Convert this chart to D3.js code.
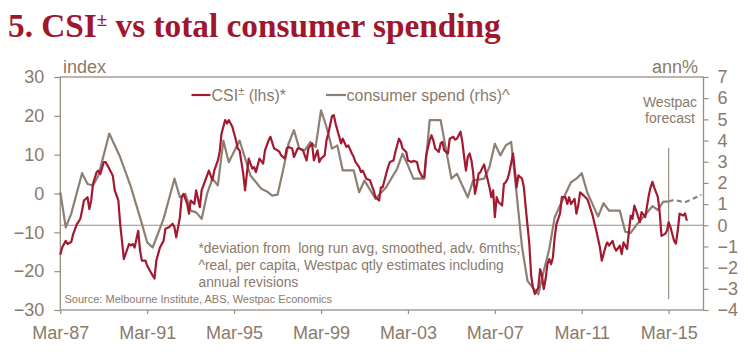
<!DOCTYPE html>
<html><head><meta charset="utf-8">
<script src="https://cdn.jsdelivr.net/npm/d3@7"></script>
<style>
body{margin:0;background:#fff}
svg{display:block}
</style>
</head><body>
<svg id="chart" width="748" height="358" font-family="'Liberation Sans',Arial,Helvetica,sans-serif"></svg>
<script>
// ---------------- DATA ----------------
const titleText = ["5. CSI", "±", " vs total consumer spending"];
const leftTicks = [-30, -20, -10, 0, 10, 20, 30];
const rightTicks = [-4, -3, -2, -1, 0, 1, 2, 3, 4, 5, 6, 7];
const xTickDates = ["1987-03","1991-03","1995-03","1999-03","2003-03","2007-03","2011-03","2015-03"];

// CSI (lhs, index, deviation from long run avg, advanced 6 months)
const csiDates = [
"1987-03","1987-04","1987-06","1987-07","1987-09","1987-10","1987-12",
"1988-02","1988-03","1988-04","1988-06","1988-07","1988-08","1988-09","1988-11","1988-12",
"1989-01","1989-03","1989-04","1989-06","1989-07","1989-08","1989-09","1989-11","1989-12",
"1990-01","1990-02","1990-03","1990-05","1990-06","1990-07","1990-08","1990-10","1990-11","1990-12",
"1991-02","1991-03","1991-05","1991-07","1991-08","1991-10","1991-12",
"1992-01","1992-03","1992-05","1992-06","1992-07","1992-09","1992-10","1992-11",
"1993-01","1993-02","1993-03","1993-05","1993-06","1993-08","1993-09","1993-11",
"1994-01","1994-03","1994-04","1994-06","1994-07","1994-08","1994-10","1994-11","1994-12",
"1995-02","1995-04","1995-05","1995-06","1995-08","1995-09","1995-10","1995-11",
"1996-01","1996-02","1996-03","1996-05","1996-07","1996-08","1996-10","1996-11",
"1997-01","1997-03","1997-04","1997-05","1997-07","1997-08","1997-09","1997-11","1997-12",
"1998-02","1998-03","1998-05","1998-07","1998-08","1998-10","1998-11",
"1999-01","1999-02","1999-03","1999-05","1999-06","1999-07","1999-09","1999-10","1999-11",
"2000-01","2000-02","2000-03","2000-05","2000-06","2000-08","2000-09","2000-10","2000-12",
"2001-01","2001-02","2001-04","2001-06","2001-07","2001-08","2001-09","2001-11","2001-12",
"2002-01","2002-03","2002-04","2002-05","2002-07","2002-08","2002-10","2002-11","2002-12",
"2003-02","2003-03","2003-05","2003-06","2003-08","2003-09","2003-11","2003-12",
"2004-01","2004-03","2004-04","2004-05","2004-06","2004-08","2004-09","2004-10","2004-11",
"2005-01","2005-02","2005-04","2005-05","2005-06","2005-08","2005-09","2005-10","2005-11","2005-12",
"2006-01","2006-02","2006-03","2006-04","2006-05","2006-06","2006-07","2006-09","2006-10","2006-12",
"2007-01","2007-02","2007-03","2007-04","2007-05","2007-07","2007-08","2007-09","2007-10","2007-11",
"2008-01","2008-02","2008-03","2008-04","2008-06","2008-07","2008-08","2008-10","2008-11","2008-12",
"2009-01","2009-03","2009-04","2009-05","2009-06","2009-07","2009-08","2009-09","2009-10","2009-11","2009-12",
"2010-01","2010-03","2010-04","2010-06","2010-07","2010-08","2010-09","2010-11","2010-12",
"2011-01","2011-02","2011-04","2011-06","2011-07","2011-09","2011-11",
"2012-01","2012-02","2012-04","2012-05","2012-06","2012-08","2012-09","2012-10","2012-12",
"2013-01","2013-02","2013-04","2013-05","2013-06","2013-07","2013-08","2013-09","2013-11","2013-12",
"2014-02","2014-04","2014-05","2014-06","2014-07","2014-09","2014-10","2014-11",
"2015-01","2015-02","2015-03","2015-04","2015-06","2015-07","2015-08","2015-09","2015-11","2015-12",
"2016-01"
];
const csiValues = [
-15.8,-13.9,-12.2,-13.0,-12.5,-10.6,-8.0,
-6.5,-4.4,-1.8,-0.95,-4.0,-1.8,2.5,5.5,5.9,
5.0,8.1,8.1,6.4,5.5,4.5,0.8,-1.8,-7.8,
-12.2,-16.9,-15.6,-13.0,-13.4,-13.0,-13.9,-9.6,-14.7,-17.3,
-17.3,-18.6,-20.3,-21.9,-17.3,-13.9,-12.2,
-9.1,-8.7,-7.8,-8.7,-11.3,-6.1,-0.95,-0.1,
-2.7,-5.2,-1.8,-2.7,0.8,-3.5,0.8,3.4,
5.9,3.4,5.9,8.5,10.7,15.4,18.9,18.0,18.9,
17.1,13.7,11.6,11.1,5.1,0.8,5.1,9.0,
6.4,6.8,5.5,9.0,7.7,11.1,13.7,14.6,
11.6,11.1,10.7,9.8,9.0,11.6,12.0,11.6,9.4,
11.6,11.6,11.1,8.5,11.6,12.9,8.5,
11.1,8.1,9.0,9.8,13.7,15.4,19.9,20.2,18.0,
14.6,12.9,14.1,12.0,12.4,10.3,9.4,8.1,6.8,
5.5,5.9,3.8,3.4,2.1,0.8,-0.95,-1.8,1.6,
1.6,5.1,6.8,8.1,8.5,10.7,14.1,13.3,11.6,
10.7,8.5,8.1,8.4,8.1,5.9,4.2,4.2,
9.8,13.7,15.0,13.7,11.6,10.7,12.9,13.3,11.1,
10.3,14.1,14.6,13.9,14.1,15.9,13.3,9.4,5.9,9.4,
10.3,8.5,5.5,-0.1,2.1,5.1,5.5,7.5,5.5,1.6,
-0.95,0.8,-6.1,-0.95,-2.2,-3.1,2.5,2.9,3.8,5.5,
10.3,5.9,1.6,4.7,3.8,1.6,-3.5,-13.0,-21.2,-24.2,
-25.9,-24.2,-19.5,-21.2,-24.6,-22.1,-18.2,-16.9,-18.2,-16.5,-11.3,
-7.8,-5.2,-0.95,-0.95,-2.7,-0.95,-2.7,-1.4,-5.2,
-3.1,0.3,-0.5,-1.4,-2.7,-5.7,-9.6,
-13.9,-17.3,-13.9,-12.6,-13.4,-12.2,-13.9,-14.7,-13.4,
-15.6,-12.6,-14.3,-10.0,-5.7,-6.5,-3.1,-4.4,-7.4,-4.8,
-6.1,-0.5,1.6,3.0,1.6,-0.95,-4.8,-10.9,
-10.4,-9.6,-7.4,-8.7,-12.2,-12.9,-9.6,-5.2,-5.7,-5.1,
-7.0
];

// Consumer spending (rhs, ann%), quarterly
const spendDates = [
"1987-03","1987-06","1987-09","1988-03","1988-06","1988-09","1988-12",
"1989-06","1989-12","1990-06","1990-12","1991-03","1991-06","1991-12",
"1992-06","1992-09","1992-12","1993-03","1993-06","1993-09","1993-12",
"1994-03","1994-06","1994-09","1994-12","1995-06","1995-12","1996-06",
"1996-09","1996-12","1997-03","1997-06","1997-09","1997-12","1998-03",
"1998-06","1998-09","1998-12","1999-03","1999-06","1999-09","1999-12",
"2000-03","2000-09","2000-12","2001-03","2001-09","2002-03","2002-09",
"2002-12","2003-03","2003-06","2003-12","2004-03","2004-09","2005-03",
"2005-06","2005-12","2006-03","2006-09","2006-12","2007-03","2007-06",
"2007-09","2007-12","2008-03","2008-06","2008-09","2009-03","2009-06",
"2009-09","2009-12","2010-03","2010-09","2010-12","2011-03","2011-06",
"2011-12","2012-03","2012-06","2012-12","2013-03","2013-06","2013-09",
"2013-12","2014-06","2014-09","2014-12","2015-03"
];
const spendValues = [
1.56,-0.1,0.55,2.46,1.95,1.88,2.35,
4.33,3.22,1.8,0.08,-0.81,-1.05,0.3,
2.2,1.32,1.48,0.69,0.61,0.3,1.48,
2.2,1.88,4.0,2.98,4.0,2.35,1.72,
1.6,1.4,1.45,2.6,3.85,4.49,3.62,
3.54,3.93,3.7,5.43,4.64,3.62,3.77,
2.59,2.59,1.56,2.11,1.25,1.8,2.67,
3.38,2.83,2.2,2.2,4.96,4.96,2.2,
2.43,1.32,2.11,2.2,2.75,3.85,3.3,
3.77,3.93,1.48,-1.05,-2.63,-3.26,-2.15,
-1.12,0.37,0.93,2.03,2.2,2.46,1.56,
0.41,1.04,0.69,0.69,-0.3,-0.36,0.0,
0.3,0.9,0.72,1.12,1.12
];
// Westpac forecast (dashed)
const forecastDates = ["2015-03","2015-06","2015-12","2016-09"];
const forecastValues = [1.12,1.2,1.08,1.44];

const annotationLines = [
  "*deviation from  long run avg, smoothed, adv. 6mths;",
  "^real, per capita, Westpac qtly estimates including",
  "annual revisions"
];
const sourceText = "Source: Melbourne Institute, ABS, Westpac Economics";

// ---------------- CHECK ----------------
if (csiDates.length !== csiValues.length) throw new Error("csi length mismatch " + csiDates.length + " vs " + csiValues.length);
if (spendDates.length !== spendValues.length) throw new Error("spend length mismatch " + spendDates.length + " vs " + spendValues.length);

// ---------------- STYLE ----------------
const RED = "#a3192f";
const GREY = "#8c8075";
const TXT = "#8a7a6b";
const AXIS = "#9a8e83";
const TITLE = "#a0162f";
const SANS = "'Liberation Sans',Arial,Helvetica,sans-serif";
const SERIF = "'Liberation Serif','Times New Roman',serif";

const M = {l: 60.3, r: 703.5, t: 77, b: 310};
const parse = d3.timeParse("%Y-%m");
const svg = d3.select("#chart");

const x = d3.scaleTime().domain([parse("1987-03"), new Date(2016, 9, 7)]).range([M.l, M.r]);
const yL = d3.scaleLinear().domain([-30, 30]).range([M.b, M.t]);
const yR = d3.scaleLinear().domain([-4, 7]).range([M.b, M.t]);

const csi = csiDates.map((d, i) => ({date: parse(d), v: csiValues[i]}));
const spend = spendDates.map((d, i) => ({date: parse(d), v: spendValues[i]}));
const fc = forecastDates.map((d, i) => ({date: parse(d), v: forecastValues[i]}));

// Title
const t = svg.append("text").attr("x", 8).attr("y", 37)
  .style("font-family", SERIF)
  .attr("font-weight", "bold").attr("font-size", 33.3).attr("fill", TITLE);
t.append("tspan").text(titleText[0]);
t.append("tspan").attr("font-size", 19).attr("dy", -11).text(titleText[1]);
t.append("tspan").attr("dy", 11).text(titleText[2]);

// zero line (rhs 0)
svg.append("line").attr("x1", M.l).attr("x2", M.r)
  .attr("y1", yR(0)).attr("y2", yR(0))
  .attr("stroke", AXIS).attr("stroke-width", 1.2);

// forecast vertical line
svg.append("line").attr("x1", x(parse("2015-03"))).attr("x2", x(parse("2015-03")))
  .attr("y1", 148).attr("y2", 299)
  .attr("stroke", AXIS).attr("stroke-width", 1.2);

// axes
function styleAxis(g) {
  g.attr("font-family", SANS);
  g.select(".domain").remove();
  g.selectAll(".tick line").attr("stroke", AXIS).attr("stroke-width", 1.2);
  g.selectAll(".tick text").attr("fill", TXT).attr("font-size", 18);
}
svg.append("g").attr("transform", `translate(${M.l},0)`)
  .call(d3.axisLeft(yL).tickValues(leftTicks).tickSize(6).tickPadding(10).tickSizeOuter(0))
  .call(styleAxis);
svg.append("g").attr("transform", `translate(${M.r},0)`)
  .call(d3.axisRight(yR).tickValues(rightTicks).tickSize(5).tickPadding(9).tickSizeOuter(0))
  .call(styleAxis);
svg.append("g").attr("transform", `translate(0,${M.b})`)
  .call(d3.axisBottom(x).tickValues(xTickDates.map(parse)).tickFormat(d3.timeFormat("Mar-%y"))
    .tickSize(4).tickPadding(12).tickSizeOuter(0))
  .call(styleAxis);

// frame
svg.append("rect").attr("x", M.l).attr("y", M.t)
  .attr("width", M.r - M.l).attr("height", M.b - M.t)
  .attr("fill", "none").attr("stroke", AXIS).attr("stroke-width", 1.3);

// lines
const lineR = d3.line().x(d => x(d.date)).y(d => yR(d.v));
const lineL = d3.line().x(d => x(d.date)).y(d => yL(d.v));

svg.append("path").datum(spend).attr("d", lineR)
  .attr("fill", "none").attr("stroke", GREY).attr("stroke-width", 2.2).attr("stroke-linejoin", "round");
svg.append("path").datum(fc).attr("d", lineR)
  .attr("fill", "none").attr("stroke", GREY).attr("stroke-width", 2.2).attr("stroke-dasharray", "5,3.5");
svg.append("path").datum(csi).attr("d", lineL)
  .attr("fill", "none").attr("stroke", RED).attr("stroke-width", 2.2).attr("stroke-linejoin", "round");

// axis titles
svg.append("text").attr("x", 63).attr("y", 73).attr("font-size", 18).attr("fill", TXT).text("index");
svg.append("text").attr("x", 698).attr("y", 73).attr("text-anchor", "end").attr("font-size", 18).attr("fill", TXT).text("ann%");

// legend
svg.append("line").attr("x1", 191.5).attr("x2", 210.5).attr("y1", 95).attr("y2", 95).attr("stroke", RED).attr("stroke-width", 2.2);
const l1 = svg.append("text").attr("x", 211.5).attr("y", 100.5).attr("font-size", 16).attr("fill", TXT);
l1.append("tspan").text("CSI");
l1.append("tspan").attr("font-size", 11).attr("dy", -6).text("±");
l1.append("tspan").attr("dy", 6).text(" (lhs)*");
svg.append("line").attr("x1", 326).attr("x2", 346).attr("y1", 95).attr("y2", 95).attr("stroke", GREY).attr("stroke-width", 2.2);
svg.append("text").attr("x", 346.5).attr("y", 100.5).attr("font-size", 16).attr("fill", TXT).text("consumer spend (rhs)^");

// forecast label
svg.append("text").attr("x", 670).attr("y", 106.5).attr("text-anchor", "middle").attr("font-size", 14).attr("fill", TXT).text("Westpac");
svg.append("text").attr("x", 670).attr("y", 123).attr("text-anchor", "middle").attr("font-size", 14).attr("fill", TXT).text("forecast");

// annotation
annotationLines.forEach((s, i) => {
  svg.append("text").attr("x", 198.5).attr("y", 253 + i * 17).attr("font-size", 13.8)
    .attr("fill", TXT).style("white-space", "pre").attr("xml:space", "preserve").text(s);
});
svg.append("text").attr("x", 64.5).attr("y", 303).attr("font-size", 11).attr("fill", TXT).text(sourceText);
</script>
</body></html>
